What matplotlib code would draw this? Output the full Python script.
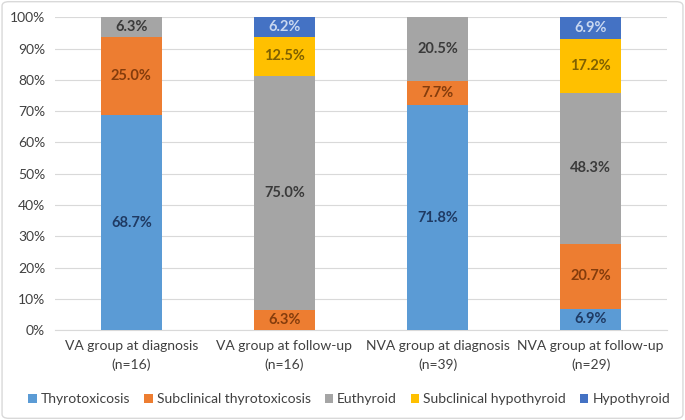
import matplotlib.pyplot as plt
import numpy as np
from matplotlib.patches import FancyBboxPatch

plt.rcParams['font.family'] = ['Lato', 'DejaVu Sans']

# Datos
grupos = ['VA group at diagnosis\n(n=16)', 'VA group at follow-up\n(n=16)',
          'NVA group at diagnosis\n(n=39)', 'NVA group at follow-up\n(n=29)']
estados = ['Thyrotoxicosis', 'Subclinical thyrotoxicosis', 'Euthyroid',
           'Subclinical hypothyroid', 'Hypothyroid']
thyrotox = [68.7, 0.0, 71.8, 6.9]
subclin_thyrotox = [25.0, 6.3, 7.7, 20.7]
euthyroid = [6.3, 75.0, 20.5, 48.3]
subclin_hypo = [0.0, 12.5, 0.0, 17.2]
hypothyroid = [0.0, 6.2, 0.0, 6.9]
series = [thyrotox, subclin_thyrotox, euthyroid, subclin_hypo, hypothyroid]

colores = ['#5B9BD5', '#ED7D31', '#A5A5A5', '#FFC000', '#4472C4']
colores_texto = ['#1F3A63', '#843C0C', '#3A3A3A', '#7F6000', '#C9D8F0']

fig = plt.figure(figsize=(6.85, 4.2), dpi=100)
ax = fig.add_axes([0.080, 0.214, 0.894, 0.745])

x = np.arange(len(grupos))
width = 0.4
bottom = np.zeros(len(grupos))
for vals, nombre, col, tcol in zip(series, estados, colores, colores_texto):
    vals = np.array(vals)
    ax.bar(x, vals, width, bottom=bottom, color=col, label=nombre, zorder=3)
    for xi, b, v in zip(x, bottom, vals):
        if v > 0:
            ax.text(xi, b + v / 2, f'{v:.1f}%', ha='center', va='center',
                    fontsize=10.5, fontweight='bold', color=tcol, zorder=4)
    bottom += vals

ax.set_ylim(0, 100)
ax.set_xlim(-0.5, len(grupos) - 0.5)
ax.set_yticks(np.arange(0, 101, 10))
ax.set_yticklabels([f'{v}%' for v in range(0, 101, 10)], fontsize=10, color='#404040')
ax.set_xticks(x)
ax.set_xticklabels(grupos, fontsize=10, color='#404040', linespacing=1.65)
ax.tick_params(length=0, pad=7)
ax.grid(True, axis='y', color='#D9D9D9', linewidth=0.8, zorder=0)
for s in ['top', 'right', 'left']:
    ax.spines[s].set_visible(False)
ax.spines['bottom'].set_color('#D9D9D9')

fig.legend(loc='lower center', bbox_to_anchor=(0.51, 0.005), ncol=5, frameon=False,
           fontsize=10, handlelength=0.6, handleheight=0.6, handletextpad=0.3,
           columnspacing=1.0, labelcolor='#404040')

# Marco de la figura
fig.patches.append(FancyBboxPatch((0.003, 0.004), 0.994, 0.992,
                                  boxstyle='round,pad=0,rounding_size=0.01',
                                  transform=fig.transFigure, fill=False,
                                  edgecolor='#D9D9D9', linewidth=1.0))

plt.savefig('out.png', dpi=100, facecolor='white')
